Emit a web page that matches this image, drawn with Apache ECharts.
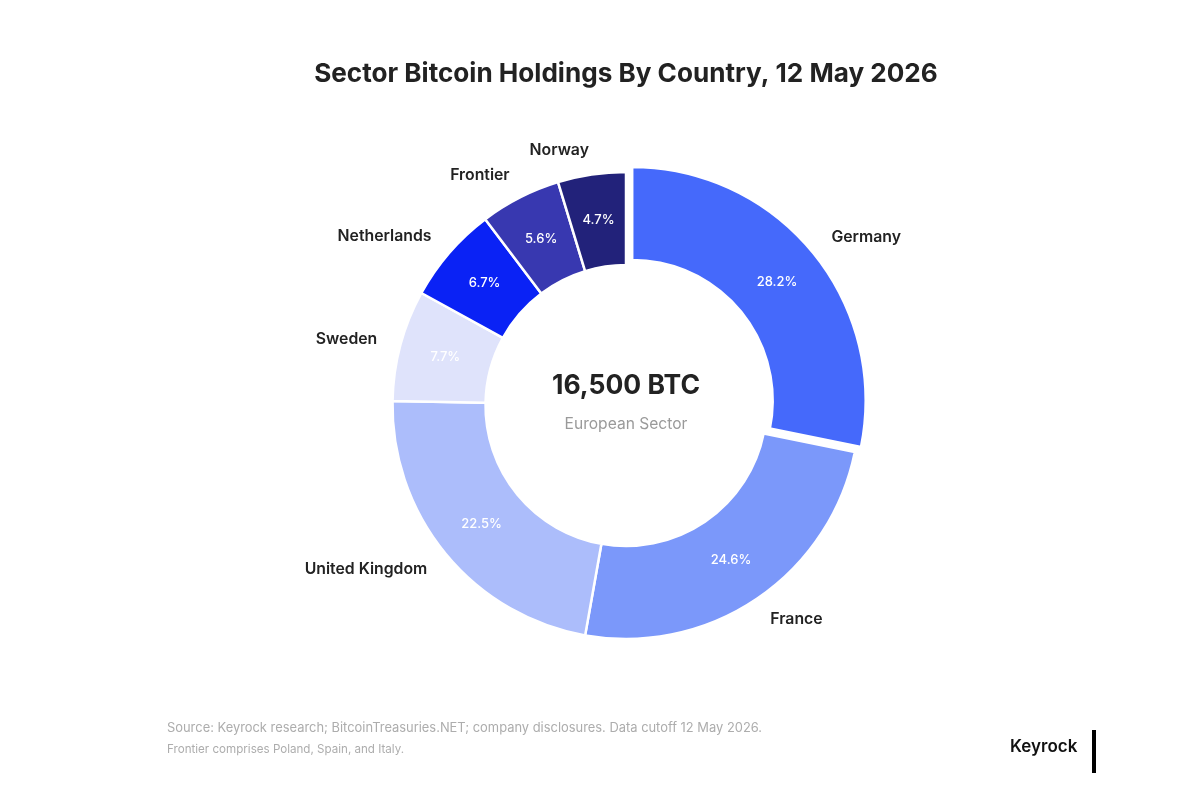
<!DOCTYPE html>
<html><head><meta charset="utf-8">
<style>html,body{margin:0;padding:0;background:#fff}#c{width:1200px;height:801px}</style>
<script src="https://cdn.jsdelivr.net/npm/echarts@6/dist/echarts.min.js"></script>
</head><body><div id="c"></div>
<script>
const countries = ['Germany','France','United Kingdom','Sweden','Netherlands','Frontier','Norway'];
const shares = [28.2,24.6,22.5,7.7,6.7,5.6,4.7];
const colors = ['#4569FB','#7B98FA','#ACBDFB','#DFE3FB','#0A22F5','#3838B0','#22227A'];
const titleText = 'Sector Bitcoin Holdings By Country, 12 May 2026';
const centerValue = '16,500 BTC';
const centerLabel = 'European Sector';
const sourceLine = 'Source: Keyrock research; BitcoinTreasuries.NET; company disclosures. Data cutoff 12 May 2026.';
const noteLine = 'Frontier comprises Poland, Spain, and Italy.';
const brand = 'Keyrock';
const font = 'Inter';

const base = {
  type:'pie', center:[626,405.5], radius:[140.5,233.5], startAngle:90, clockwise:true,
  selectedMode:'multiple', selectedOffset:8, avoidLabelOverlap:false, silent:true,
  animation:false
};
const chart = echarts.init(document.getElementById('c'), null, {renderer:'canvas'});
chart.setOption({
  backgroundColor:'#fff',
  animation:false,
  title:[
    {text:titleText,left:621,top:56,textAlign:'center',textStyle:{fontFamily:font,fontSize:26.1,fontWeight:700,color:'#222'}},
    {text:centerValue,left:621,top:368,textAlign:'center',textStyle:{fontFamily:font,fontSize:26.5,fontWeight:700,color:'#222'}},
    {text:centerLabel,left:621,top:411,textAlign:'center',textStyle:{fontFamily:font,fontSize:15.6,fontWeight:400,color:'#9a9a9a'}},
    {text:sourceLine,left:162,top:717,textStyle:{fontFamily:font,fontSize:12.9,fontWeight:400,color:'#adadad'}},
    {text:noteLine,left:162,top:739,textStyle:{fontFamily:font,fontSize:11.6,fontWeight:400,color:'#adadad'}},
    {text:brand,left:1005,top:733,textStyle:{fontFamily:font,fontSize:17,fontWeight:600,color:'#111'}}
  ],
  graphic:[{type:'rect',shape:{x:1092,y:730,width:4,height:43},style:{fill:'#000'}}],
  series:[
    Object.assign({},base,{
      data:countries.map((n,i)=>({name:n,value:shares[i],selected:i===0,itemStyle:{color:colors[i]}})),
      itemStyle:{borderColor:'#fff',borderWidth:2.5},
      label:{show:false},
      labelLine:{show:false}
    }),
    Object.assign({},base,{
      radius:[140,228],
      data:countries.map((n,i)=>({name:n,value:shares[i],selected:i===0})),
      itemStyle:{color:'transparent',borderWidth:0},
      label:{show:true,position:'inside',formatter:p=>p.value.toFixed(1)+'%',fontFamily:font,fontSize:13,fontWeight:500,color:'#fff'},
      labelLine:{show:false}
    }),
    Object.assign({},base,{
      data:countries.map((n,i)=>({name:n,value:shares[i],selected:i===0})),
      itemStyle:{color:'transparent',borderWidth:0},
      label:{show:true,position:'outside',formatter:'{b}',fontFamily:font,fontSize:15.8,fontWeight:600,color:'#222',alignTo:'none'},
      labelLine:{show:false,length:25,length2:-6}
    })
  ]
});
</script></body></html>
